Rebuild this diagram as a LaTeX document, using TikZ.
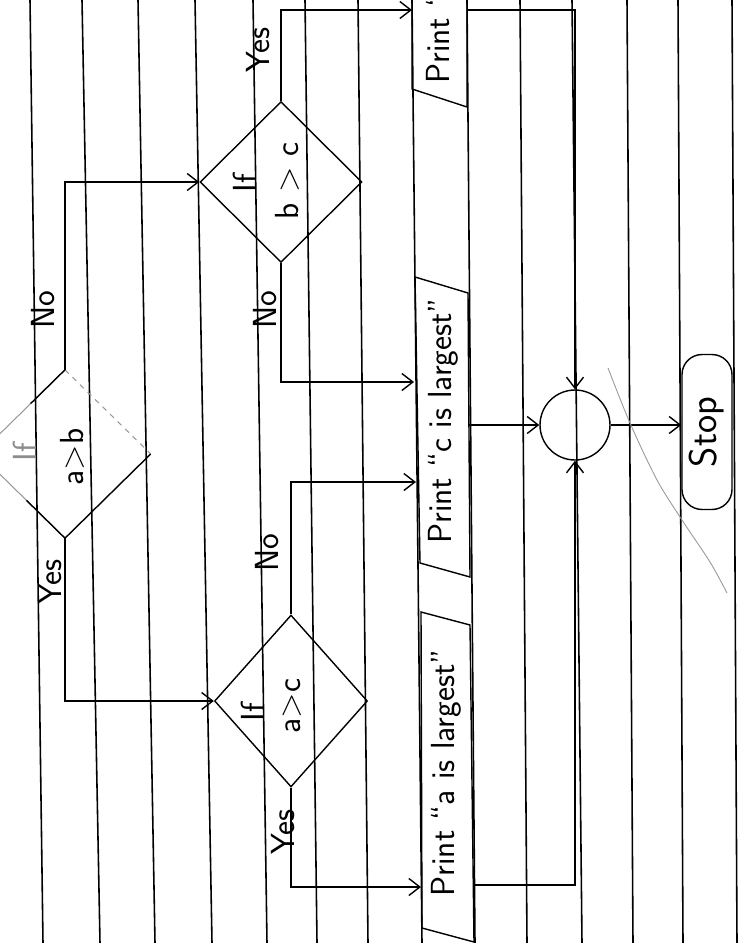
\documentclass[tikz,border=0pt]{standalone}
\usetikzlibrary{shapes.geometric,arrows.meta,calc}
\begin{document}
\begin{tikzpicture}[x=0.02cm,y=-0.02cm,
  rule/.style={line width=0.9pt},
  flow/.style={line width=0.8pt},
  faint/.style={line width=0.6pt,black!40},
  arr/.style={flow,-{Straight Barb[length=2.2mm,width=3.4mm]}},
  dec/.style={diamond,flow,inner sep=0pt},
  lbl/.style={font=\sffamily\fontsize{19}{22}\selectfont,rotate=90,inner sep=0pt},
  boxline/.style={flow},
]
\useasboundingbox (0,0) rectangle (739,943);
\fill[white] (0,0) rectangle (739,943);
\clip (0,0) rectangle (739,943);
% ruled paper lines
\foreach \a/\b in {30/43,82/100,138/155,195/212,253/267,305/317,358/368,412/422,467/475,520/527,572/582,627/633,678/683,732/737}
  \draw[rule] (\a,0) -- (\b,943);

% decision 1 (partly faint)
\node[dec,minimum width=3.4cm,minimum height=3.34cm] (d1) at (65,454) {};
\draw[faint,dashed] (d1.north) -- (d1.east);
\draw[faint] (d1.west) -- (d1.north);
\draw[faint] (d1.west) -- (d1.south);
\draw[flow] (d1.south) -- (d1.east);
\draw[flow] (d1.north) -- ($(d1.north)!0.4!(d1.west)$);
\draw[flow] ($(d1.west)!0.55!(d1.south)$) -- (d1.south);
\node[lbl,text=black!45] (if1) at (25,452) {If};
\node[lbl] (t1) at (72,457) {a>b};

% decision 2
\node[dec,draw,minimum width=3.24cm,minimum height=3.22cm] (d2) at (281,182) {};
\node[lbl] (if2) at (245,183) {If};
\node[lbl] (t2) at (287,181) {b > c};

% decision 3
\node[dec,draw,minimum width=3.06cm,minimum height=3.44cm] (d3) at (291,701) {};
\node[lbl] (if3) at (253,712) {If};
\node[lbl] (t3) at (292,706) {a>c};

% branch labels
\node[lbl] (no1) at (43,310) {No};
\node[lbl] (yes1) at (50,582) {Yes};
\node[lbl] (yes2) at (258,50) {Yes};
\node[lbl] (no2) at (265,310) {No};
\node[lbl] (no3) at (267,553) {No};
\node[lbl] (yes3) at (283,832) {Yes};

% print boxes
\draw[boxline] (412,-300) -- (412,89) -- (467,107) -- (467,-300);
\draw[boxline] (415,277) -- (468,293) -- (470,577) -- (420,563) -- cycle;
\draw[boxline] (421,612) -- (470,625) -- (474,942) -- (422,928) -- cycle;
\node[lbl,anchor=west] (pb) at (441,84) {Print “b is largest”};
\node[lbl] (pc) at (443,421) {Print “c is largest”};
\node[lbl] (pa) at (446,773) {Print “a is largest”};

\coordinate (bin) at (412,10);
\coordinate (bout) at (467,10);
\coordinate (cin1) at (414,382);
\coordinate (cin2) at (416,482);
\coordinate (cout) at (469,425);
\coordinate (ain) at (421,887);
\coordinate (aout) at (474,885);

% connector circle and stop
\node[circle,draw,flow,minimum size=1.4cm,inner sep=0pt] (j) at (575,425) {};
\node[draw,flow,rounded corners=0.4cm,rotate=90,minimum width=3.1cm,minimum height=1cm,
      font=\sffamily\fontsize{22}{26}\selectfont] (stop) at (707,432) {Stop};

% connectors
\draw[arr] (d1.north) |- (d2.west);
\draw[arr] (d1.south) |- (d3.west);
\draw[arr] (d2.north) |- (bin);
\draw[arr] (d2.south) |- (cin1);
\draw[arr] (d3.north) |- (cin2);
\draw[arr] (d3.south) |- (ain);
\draw[arr] (bout) -| (j.north);
\draw[arr] (cout) -- (j.west);
\draw[arr] (aout) -| (j.south);
\draw[arr] (j.east) -- (j.east -| stop.north);

% faint pencil stroke
\draw[black!40,line width=0.5pt] plot[smooth] coordinates {(608,368) (630,423) (657,480) (682,520) (710,562) (727,593)};
\end{tikzpicture}
\end{document}
